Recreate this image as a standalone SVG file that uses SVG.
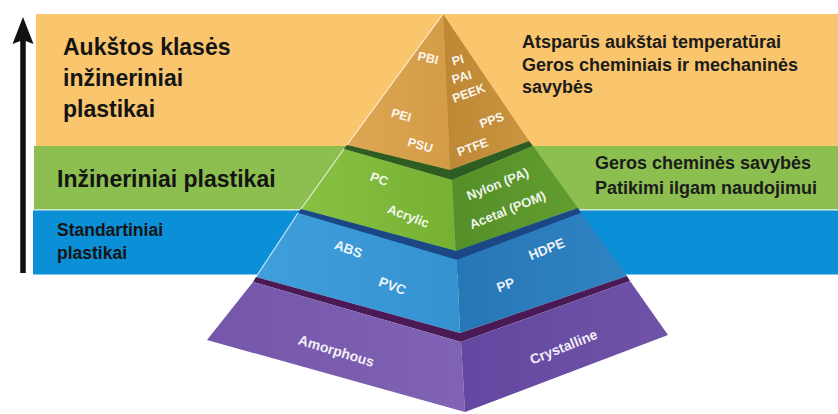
<svg xmlns="http://www.w3.org/2000/svg" width="838" height="414" viewBox="0 0 838 414">
  <defs>
    <style>
      .band-title { font-family: 'Liberation Sans', Arial, sans-serif; font-weight: bold; fill: #141414; }
      .note { font-family: 'Liberation Sans', Arial, sans-serif; font-weight: bold; font-size: 18px; fill: #1c1c1c; }
      .lbl { font-family: 'Liberation Sans', Arial, sans-serif; font-weight: bold; fill: #ffffff; fill-opacity: 0.93; text-anchor: middle; dominant-baseline: middle; }
      .edge { fill: none; stroke: #ffffff; stroke-opacity: 0.75; stroke-width: 1.2; }
    </style>
    <linearGradient id="gL1" x1="0" y1="0" x2="1" y2="0"><stop offset="0" stop-color="#DDA653"/><stop offset="1" stop-color="#D49C47"/></linearGradient>
    <linearGradient id="gR1" x1="0" y1="0" x2="1" y2="0"><stop offset="0" stop-color="#BD8733"/><stop offset="1" stop-color="#CA9541"/></linearGradient>
    <linearGradient id="gL2" x1="0" y1="0" x2="1" y2="0"><stop offset="0" stop-color="#88C043"/><stop offset="1" stop-color="#76B133"/></linearGradient>
    <linearGradient id="gR2" x1="0" y1="0" x2="1" y2="0"><stop offset="0" stop-color="#558F28"/><stop offset="1" stop-color="#629D30"/></linearGradient>
    <linearGradient id="gL3" x1="0" y1="0" x2="1" y2="0"><stop offset="0" stop-color="#3F9FDB"/><stop offset="1" stop-color="#3592D1"/></linearGradient>
    <linearGradient id="gR3" x1="0" y1="0" x2="1" y2="0"><stop offset="0" stop-color="#2776B6"/><stop offset="1" stop-color="#2F84C3"/></linearGradient>
    <linearGradient id="gL4" x1="0" y1="0" x2="1" y2="0"><stop offset="0" stop-color="#7556AA"/><stop offset="1" stop-color="#8063B4"/></linearGradient>
    <linearGradient id="gR4" x1="0" y1="0" x2="1" y2="0"><stop offset="0" stop-color="#6447A0"/><stop offset="1" stop-color="#6F53A8"/></linearGradient>
  </defs>

  <rect width="838" height="414" fill="#ffffff"/>

  <!-- Bands -->
  <g id="band-high">
    <rect x="36" y="14" width="802" height="132" fill="#F9C56D"/>
    <text class="band-title" font-size="23" x="63" y="55">Aukštos klasės</text>
    <text class="band-title" font-size="23" x="63" y="86">inžineriniai</text>
    <text class="band-title" font-size="23" x="63" y="117">plastikai</text>
    <text class="note" x="522" y="48">Atsparūs aukštai temperatūrai</text>
    <text class="note" x="522" y="71">Geros cheminiais ir mechaninės</text>
    <text class="note" x="522" y="93">savybės</text>
  </g>
  <g id="band-eng">
    <rect x="34" y="146" width="804" height="63" fill="#8CBF4F"/>
    <text class="band-title" font-size="23" x="57" y="187">Inžineriniai plastikai</text>
    <text class="note" x="595" y="169" fill="#1a2410">Geros cheminės savybės</text>
    <text class="note" x="595" y="194" fill="#1a2410">Patikimi ilgam naudojimui</text>
  </g>
  <g id="band-std">
    <rect x="33" y="209" width="805" height="1.5" fill="#cfe6c6"/>
    <rect x="33" y="210.5" width="805" height="64" fill="#0B8FD6"/>
    <text class="band-title" font-size="17.5" x="57" y="236" fill="#152440">Standartiniai</text>
    <text class="band-title" font-size="17.5" x="57" y="259" fill="#152440">plastikai</text>
  </g>

  <!-- Connectors -->
  <g id="connectors">
    <line x1="23" y1="38" x2="23" y2="273" stroke="#111111" stroke-width="5.5"/>
    <polygon points="23,17 33.5,44 23,40 12.5,44" fill="#111111"/>
  </g>

  <!-- Pyramid -->
  <g id="pyramid">
    <g id="layer-high">
      <polygon points="443,14 347,145 450,170" fill="url(#gL1)"/>
      <polygon points="443,14 450,170 529,141" fill="url(#gR1)"/>
      <polyline class="edge" points="347,145 443,14"/>
      <text class="lbl" font-size="12.5" transform="translate(428,59) rotate(12)">PBI</text>
      <text class="lbl" font-size="12.5" transform="translate(401,116) rotate(15)">PEI</text>
      <text class="lbl" font-size="12.5" transform="translate(420,146) rotate(16)">PSU</text>
      <text class="lbl" font-size="12.5" transform="translate(458,61) rotate(-15)">PI</text>
      <text class="lbl" font-size="12.5" transform="translate(462,78) rotate(-16)">PAI</text>
      <text class="lbl" font-size="12.5" transform="translate(469,94) rotate(-20)">PEEK</text>
      <text class="lbl" font-size="12.5" transform="translate(492,121) rotate(-20)">PPS</text>
      <text class="lbl" font-size="12.5" transform="translate(473,148) rotate(-20)">PTFE</text>
    </g>
    <g id="layer-eng">
      <polygon points="347,145 450,170 529,141 533,146 452,180 344,149" fill="#2E5C22"/>
      <polygon points="344,149 452,180 456,251 301,209" fill="url(#gL2)"/>
      <polygon points="452,180 533,146 578,208 456,251" fill="url(#gR2)"/>
      <polyline class="edge" points="301,209 344,149"/>
      <text class="lbl" font-size="13" transform="translate(379,180) rotate(20)">PC</text>
      <text class="lbl" font-size="13" transform="translate(408,217) rotate(21)">Acrylic</text>
      <text class="lbl" font-size="13" transform="translate(498,185) rotate(-22)">Nylon (PA)</text>
      <text class="lbl" font-size="13" transform="translate(508,211) rotate(-22)">Acetal (POM)</text>
    </g>
    <g id="layer-std">
      <polygon points="301,209 456,251 578,208 581,213 457,260 298,213" fill="#1D4784"/>
      <polygon points="298,213 457,260 460,333 256,277" fill="url(#gL3)"/>
      <polygon points="457,260 581,213 627,276 460,333" fill="url(#gR3)"/>
      <polyline class="edge" points="256,277 298,213"/>
      <text class="lbl" font-size="13.5" transform="translate(348,250) rotate(20)">ABS</text>
      <text class="lbl" font-size="13.5" transform="translate(392,287) rotate(20)">PVC</text>
      <text class="lbl" font-size="13.5" transform="translate(547,250) rotate(-22)">HDPE</text>
      <text class="lbl" font-size="13.5" transform="translate(506,286) rotate(-20)">PP</text>
    </g>
    <g id="layer-base">
      <polygon points="256,277 460,333 627,276 630,281 461,342 253,282" fill="#4A1A56"/>
      <polygon points="253,282 461,342 465,412 207,340" fill="url(#gL4)"/>
      <polygon points="461,342 630,281 668,335 465,412" fill="url(#gR4)"/>
      <text class="lbl" font-size="14" transform="translate(336,352) rotate(17)">Amorphous</text>
      <text class="lbl" font-size="14" transform="translate(564,348) rotate(-22)">Crystalline</text>
    </g>
  </g>
</svg>
